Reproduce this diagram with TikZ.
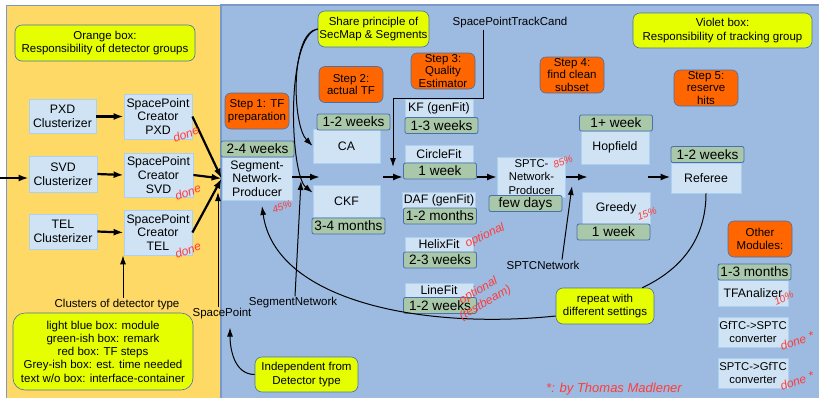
\documentclass[tikz,border=0pt]{standalone}
\usepackage{fontspec}
\setmainfont{Liberation Sans}
\usetikzlibrary{arrows.meta}

\definecolor{orangeBg}{RGB}{255,217,102}
\definecolor{blueBg}{RGB}{157,187,224}
\definecolor{moduleFill}{RGB}{207,227,244}
\definecolor{moduleLine}{RGB}{172,208,240}
\definecolor{remarkFill}{RGB}{230,255,0}
\definecolor{stepFill}{RGB}{255,102,0}
\definecolor{timeFill}{RGB}{169,199,169}
\definecolor{boxLine}{RGB}{72,112,172}
\definecolor{panelLine}{RGB}{122,152,200}
\definecolor{scribbleRed}{RGB}{255,60,60}

\begin{document}
\begin{tikzpicture}
[x=1pt,y=-1pt,
  moduleDecorate/.style={shape=rectangle,fill=moduleFill,draw=moduleLine,line width=0.8pt,inner sep=1pt,align=center},
  timeDecorate/.style={shape=rectangle,rounded corners=2pt,fill=timeFill,draw=boxLine,line width=0.8pt,inner sep=0pt,
    minimum width=73pt,minimum height=16pt,font=\fontsize{13.6}{15}\selectfont},
  stepDecorate/.style={shape=rectangle,rounded corners=6pt,fill=stepFill,draw=boxLine,line width=0.6pt,inner sep=1pt,
    minimum width=64pt,minimum height=36pt,align=center,font=\fontsize{11.5}{12.8}\selectfont},
  remarkDecorate/.style={shape=rectangle,rounded corners=7pt,fill=remarkFill,draw=boxLine,line width=0.6pt,inner sep=1pt,
    align=center,font=\fontsize{11.5}{13.3}\selectfont},
  labelDecorate/.style={inner sep=1pt,font=\fontsize{11.5}{13}\selectfont},
  noteDecorate/.style={text=scribbleRed,inner sep=0pt,align=center,font=\itshape\fontsize{12}{12}\selectfont},
  flowDecorate/.style={-{Latex[length=10pt,width=7pt]},line width=2.2pt},
  linkDecorate/.style={-{Latex[length=9pt,width=6pt]},line width=1pt}]
\useasboundingbox (0,0) rectangle (819,397);
%% panels
\fill[orangeBg] (6,5) rectangle (221,400);
\fill[blueBg] (221,5) rectangle (822,400);
\draw[panelLine,line width=1pt] (6,5) rectangle (221,400);
\draw[panelLine,line width=1.5pt] (221,5) rectangle (822,400);
%% remarks
\node[remarkDecorate,minimum width=180pt,minimum height=36pt] (orangeNote) at (105,43) {Orange box:\\Responsibility of detector groups};
\node[remarkDecorate,minimum width=179pt,minimum height=35pt] (violetNote) at (722.5,30.5) {Violet box:\\Responsibility of tracking group};
\node[remarkDecorate,minimum width=111pt,minimum height=36pt] (shareNote) at (373.5,29) {Share principle of\\SecMap \& Segments};
\node[remarkDecorate,minimum width=98pt,minimum height=36pt] (repeatNote) at (605,306) {repeat with\\different settings};
\node[remarkDecorate,minimum width=103pt,minimum height=35pt] (indepNote) at (306.5,374.5) {Independent from\\Detector type};
\node[remarkDecorate,rounded corners=12pt,minimum width=180pt,minimum height=77pt] (legendNote) at (103,351.5)
  {light blue box: module\\green-ish box: remark\\red box: TF steps\\Grey-ish box: est. time needed\\text w/o box: interface-container};
%% steps
\foreach \nodename/\x/\y/\txt in {
  step1/257/111/{Step 1: TF\\preparation}, step2/351/84.5/{Step 2:\\actual TF},
  step3/443/71/{Step 3:\\Quality\\Estimator}, step4/572/75/{Step 4:\\find clean\\subset},
  step5/706/88/{Step 5:\\reserve\\hits}, otherStep/760/239/{Other\\Modules:}}
{
  \node[stepDecorate] (\nodename) at (\x,\y) {\txt};
}
%% modules
\foreach \nodename/\x/\y/\w/\h/\fs/\txt in {
  pxdClus/62.5/116.5/67/34/12.3/{PXD\\Clusterizer}, svdClus/63/174/68/36/12.3/{SVD\\Clusterizer},
  telClus/63/231.5/68/35/12.3/{TEL\\Clusterizer},
  pxdSP/158/116.5/68/45/12.3/{SpacePoint\\Creator\\PXD}, svdSP/158.5/175/69/44/12.3/{SpacePoint\\Creator\\SVD},
  telSP/158/232.5/68/45/12.3/{SpacePoint\\Creator\\TEL},
  snp/257/178.5/70/43/12.3/{Segment-\\Network-\\Producer},
  ca/346.5/146/67/34/12.3/{CA}, ckf/346.5/201/67/32/12.3/{CKF},
  kf/439/108.5/68/18/12.3/{KF (genFit)}, circ/439/154/68/17/12.3/{CircleFit},
  daf/439/200/70/16/12.3/{DAF (genFit)}, helix/439/244.5/68/15/12.3/{HelixFit},
  lineFit/439/290/68/14/12.3/{LineFit},
  sptc/531.5/177/68/40/11.3/{SPTC-\\Network-\\Producer},
  hop/615/147.5/68/33/12.3/{Hopfield}, greedy/616/208/68/32/12.3/{Greedy},
  referee/706/178/70/30/12.3/{Referee},
  tfa/753/293/70/26/12.3/{TFAnalizer},
  gf2sp/753/332/70/30/11.3/{GfTC->SPTC\\converter}, sp2gf/753/373/70/30/11.3/{SPTC->GfTC\\converter}}
{
  \node[moduleDecorate,minimum width=\w pt,minimum height=\h pt,font=\fontsize{\fs}{13.6}\selectfont] (\nodename) at (\x,\y) {\txt};
}
%% estimated time
\foreach \nodename/\x/\y/\txt in {
  snpTime/257.5/149/2-4 weeks, caTime/353.5/122/1-2 weeks, ckfTime/348.5/226/3-4 months,
  kfTime/441.5/125.5/1-3 weeks, circTime/440/171/1 week, dafTime/440/216/1-2 months,
  helixTime/440/260/2-3 weeks, lineTime/440/305.5/1-2 weeks, sptcTime/525.5/203.5/few days,
  hopTime/616/123/1+ week, greedyTime/613.5/232/1 week, refTime/707.5/154.5/1-2 weeks,
  tfaTime/754.5/272/1-3 months}
{
  \node[timeDecorate] (\nodename) at (\x,\y) {\txt};
}
%% interface containers
\node[labelDecorate] (clustersLbl) at (117,305) {Clusters of detector type};
\node[labelDecorate] (spLbl) at (222,314) {SpacePoint};
\node[labelDecorate] (segNetLbl) at (293,303) {SegmentNetwork};
\node[labelDecorate] (sptcLbl) at (510,23) {SpacePointTrackCand};
\node[labelDecorate] (sptcNetLbl) at (543,265) {SPTCNetwork};
%% main flow
\coordinate (flow) at (0,177);
\coordinate (svdIn) at (0,178);
\coordinate (caCkfIn) at (320,177);
\coordinate (fitIn) at (383,177);
\coordinate (subsetIn) at (588,177);
\coordinate (subsetOut) at (648,177);
\draw[flowDecorate] (svdIn) -- (svdIn -| svdClus.west);
\foreach \startnode/\endnode in {
  pxdClus/pxdSP, svdClus/svdSP, telClus/telSP, pxdSP/snp, svdSP/snp, telSP/snp}
{
  \draw[flowDecorate] (\startnode.east) -- (\endnode.west);
}
\draw[flowDecorate] (snp.east |- flow) -- (caCkfIn);
\draw[flowDecorate] (fitIn) -- (circTime.west |- flow);
\draw[flowDecorate] (circTime.east |- flow) -- (sptc.west |- flow);
\draw[flowDecorate] (sptc.east |- flow) -- (subsetIn);
\draw[flowDecorate] (subsetOut) -- (referee.west |- flow);
%% container links
\coordinate (spTip) at (218,192);
\coordinate (segNetTip) at (301,181);
\coordinate (sptcNetTip) at (572,186);
\coordinate (qeBend) at (393,98);
\coordinate (qeTip) at (393,167);
\coordinate (snpTip) at (262,206);
\draw[linkDecorate] ([xshift=6pt]clustersLbl.north) -- ([xshift=6pt]clustersLbl.north |- telSP.south);
\draw[linkDecorate] (spLbl.north -| spTip) -- (spTip);
\draw[linkDecorate] (indepNote.west) to[out=180,in=-90] ([xshift=8pt,yshift=-7pt]spLbl.south);
\draw[linkDecorate] ([xshift=2pt]segNetLbl.north) -- (segNetTip);
\draw[linkDecorate] ([xshift=19pt]sptcNetLbl.north) -- (sptcNetTip);
\draw[linkDecorate] ([xshift=-27pt]sptcLbl.south) |- (qeBend) -- (qeTip);
\draw[linkDecorate] (shareNote.west) .. controls (290,32) and (292,125) .. (ca.west);
\draw[linkDecorate] (shareNote.west) .. controls (285,36) and (290,175) .. ([yshift=-8pt]ckf.north west);
\draw[linkDecorate] ([yshift=-10pt]repeatNote.west) .. controls (420,330) and (275,300) .. (snpTip);
\draw[line width=1pt] (referee.south) .. controls (706,240) and (680,270) .. ([xshift=-12pt]repeatNote.north east);
%% handwritten remarks
\node[noteDecorate,rotate=20] (donePXD) at (186,134) {done};
\node[noteDecorate,rotate=20] (doneSVD) at (188,192) {done};
\node[noteDecorate,rotate=20] (doneTEL) at (188,250) {done};
\node[noteDecorate,rotate=20,font=\itshape\fontsize{10}{10}\selectfont] (snpShare) at (282,207) {45\%};
\node[noteDecorate,rotate=20,font=\itshape\fontsize{10}{10}\selectfont] (sptcShare) at (563,162) {85\%};
\node[noteDecorate,rotate=20,font=\itshape\fontsize{10}{10}\selectfont] (greedyShare) at (647,214) {15\%};
\node[noteDecorate,rotate=25,font=\itshape\fontsize{10}{10}\selectfont] (tfaShare) at (784,298) {10\%};
\node[noteDecorate,rotate=25] (helixOpt) at (485,236) {optional};
\node[noteDecorate,rotate=30,font=\itshape\fontsize{12}{14}\selectfont] (lineOpt) at (482,297) {optional\\(testbeam)};
\node[noteDecorate,rotate=20] (gf2spDone) at (797,341) {done *};
\node[noteDecorate,rotate=20] (sp2gfDone) at (797,381) {done *};
\node[noteDecorate,font=\itshape\fontsize{13}{13}\selectfont] (madlenerNote) at (614,389) {*: by Thomas Madlener};
\end{tikzpicture}
\end{document}
